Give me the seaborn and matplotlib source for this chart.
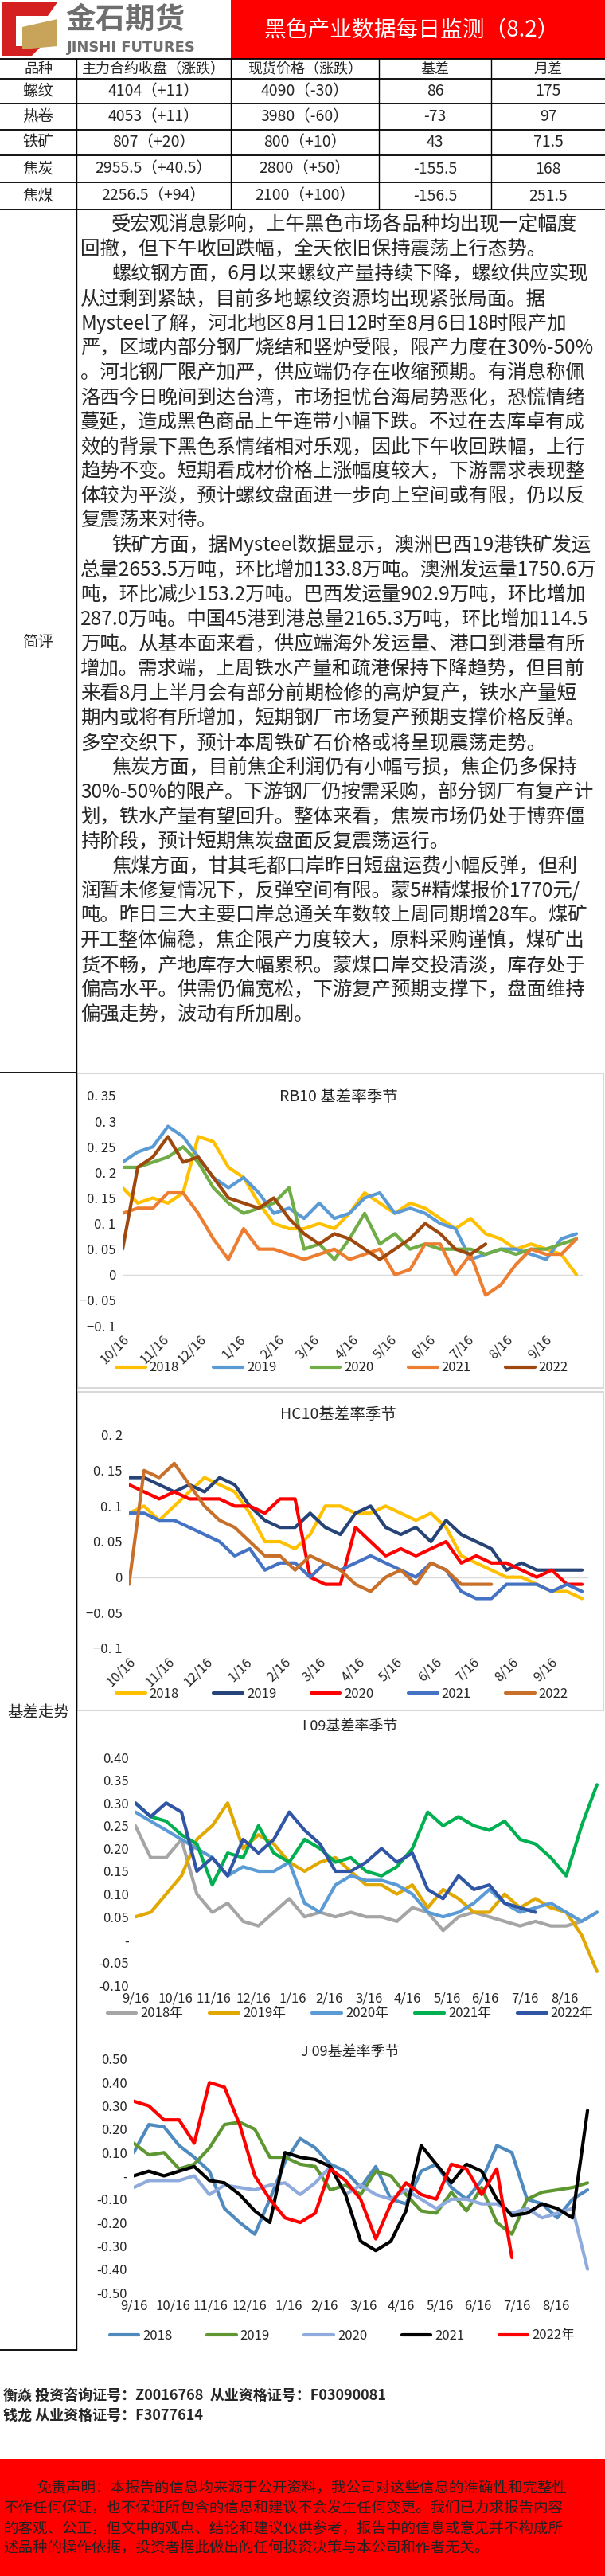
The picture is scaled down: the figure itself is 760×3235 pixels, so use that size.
import numpy as np
import pandas as pd
import matplotlib
matplotlib.use("Agg")
import matplotlib.pyplot as plt
import seaborn as sns
from matplotlib.patches import Rectangle, Polygon
from matplotlib.lines import Line2D

sns.set_style("white")
plt.rcParams['font.family'] = ['Noto Sans CJK SC', 'DejaVu Sans']

W, H = 760, 3235
fig = plt.figure(figsize=(W/100, H/100), dpi=100)

def fx(x): return x / W
def fy(y): return 1 - y / H

# ---------------- data ----------------
title = "黑色产业数据每日监测（8.2）"
table_header = ["品种", "主力合约收盘（涨跌）", "现货价格（涨跌）", "基差", "月差"]
varieties = ["螺纹", "热卷", "铁矿", "焦炭", "焦煤"]
futures_close = ["4104（+11）", "4053（+11）", "807（+20）", "2955.5（+40.5）", "2256.5（+94）"]
spot_price = ["4090（-30）", "3980（-60）", "800（+10）", "2800（+50）", "2100（+100）"]
basis = ["86", "-73", "43", "-155.5", "-156.5"]
spread = ["175", "97", "71.5", "168", "251.5"]

comment_lines = [
    ("受宏观消息影响，上午黑色市场各品种均出现一定幅度", True),
    ("回撤，但下午收回跌幅，全天依旧保持震荡上行态势。", False),
    ("螺纹钢方面，6月以来螺纹产量持续下降，螺纹供应实现", True),
    ("从过剩到紧缺，目前多地螺纹资源均出现紧张局面。据", False),
    ("Mysteel了解，河北地区8月1日12时至8月6日18时限产加", False),
    ("严，区域内部分钢厂烧结和竖炉受限，限产力度在30%-50%", False),
    ("。河北钢厂限产加严，供应端仍存在收缩预期。有消息称佩", False),
    ("洛西今日晚间到达台湾，市场担忧台海局势恶化，恐慌情绪", False),
    ("蔓延，造成黑色商品上午连带小幅下跌。不过在去库卓有成", False),
    ("效的背景下黑色系情绪相对乐观，因此下午收回跌幅，上行", False),
    ("趋势不变。短期看成材价格上涨幅度较大，下游需求表现整", False),
    ("体较为平淡，预计螺纹盘面进一步向上空间或有限，仍以反", False),
    ("复震荡来对待。", False),
    ("铁矿方面，据Mysteel数据显示，澳洲巴西19港铁矿发运", True),
    ("总量2653.5万吨，环比增加133.8万吨。澳洲发运量1750.6万", False),
    ("吨，环比减少153.2万吨。巴西发运量902.9万吨，环比增加", False),
    ("287.0万吨。中国45港到港总量2165.3万吨，环比增加114.5", False),
    ("万吨。从基本面来看，供应端海外发运量、港口到港量有所", False),
    ("增加。需求端，上周铁水产量和疏港保持下降趋势，但目前", False),
    ("来看8月上半月会有部分前期检修的高炉复产，铁水产量短", False),
    ("期内或将有所增加，短期钢厂市场复产预期支撑价格反弹。", False),
    ("多空交织下，预计本周铁矿石价格或将呈现震荡走势。", False),
    ("焦炭方面，目前焦企利润仍有小幅亏损，焦企仍多保持", True),
    ("30%-50%的限产。下游钢厂仍按需采购，部分钢厂有复产计", False),
    ("划，铁水产量有望回升。整体来看，焦炭市场仍处于博弈僵", False),
    ("持阶段，预计短期焦炭盘面反复震荡运行。", False),
    ("焦煤方面，甘其毛都口岸昨日短盘运费小幅反弹，但利", True),
    ("润暂未修复情况下，反弹空间有限。蒙5#精煤报价1770元/", False),
    ("吨。昨日三大主要口岸总通关车数较上周同期增28车。煤矿", False),
    ("开工整体偏稳，焦企限产力度较大，原料采购谨慎，煤矿出", False),
    ("货不畅，产地库存大幅累积。蒙煤口岸交投清淡，库存处于", False),
    ("偏高水平。供需仍偏宽松，下游复产预期支撑下，盘面维持", False),
    ("偏强走势，波动有所加剧。", False),
]

days = np.arange(0, 361, 12)
years = ["2018", "2019", "2020", "2021", "2022"]

rb_2018 = [.17,.14,.15,.14,.16,.27,.26,.21,.19,.14,.10,.09,.09,.10,.09,.12,.16,.14,.12,.14,.13,.11,.09,.11,.08,.07,.05,.06,.05,.04,.00]
rb_2019 = [.22,.24,.25,.29,.27,.23,.19,.17,.19,.16,.12,.13,.11,.14,.11,.12,.15,.16,.12,.13,.12,.10,.09,.03,.04,.05,.05,.04,.03,.07,.08]
rb_2020 = [.21,.21,.22,.23,.25,.22,.17,.14,.12,.13,.14,.17,.05,.06,.03,.07,.12,.06,.08,.05,.06,.05,.05,.05,.04,.05,.04,.05,.05,.06,.07]
rb_2021 = [.12,.13,.13,.16,.16,.12,.07,.03,.09,.05,.05,.04,.03,.04,.05,.03,.04,.05,.00,.01,.06,.06,.00,.04,-.04,-.02,.02,.05,.04,.04,.07]
rb_2022 = [.05,.21,.23,.27,.22,.23,.19,.15,.14,.13,.15,.11,.08,.06,.08,.07,.05,.03,.05,.07,.10,.08,.05,.04,.06]

hc_2018 = [.09,.10,.08,.10,.12,.14,.13,.12,.09,.05,.05,.04,.06,.10,.10,.09,.09,.10,.09,.08,.09,.07,.03,.02,.01,.00,.00,-.01,-.02,-.02,-.03]
hc_2019 = [.14,.14,.13,.12,.13,.12,.14,.13,.10,.08,.07,.07,.09,.07,.06,.09,.10,.07,.06,.07,.05,.08,.06,.05,.04,.01,.02,.01,.01,.01,.01]
hc_2020 = [.13,.12,.11,.12,.11,.11,.11,.10,.10,.09,.11,.11,.00,-.01,-.01,.07,.05,.03,.04,.03,.04,.05,.02,.03,.02,.02,.01,.00,.01,-.01,-.01]
hc_2021 = [.09,.09,.08,.08,.07,.06,.05,.03,.04,.01,.02,.02,.00,.02,.01,.02,.03,.02,.01,.00,.02,.01,-.02,-.03,-.03,-.01,-.01,-.01,-.02,-.01,-.02]
hc_2022 = [-.01,.15,.14,.16,.13,.10,.08,.07,.05,.03,.03,.01,.03,.02,.01,-.01,-.02,.00,.01,-.01,.02,.01,-.01,-.01,-.01]

i_2018 = [.25,.18,.18,.22,.10,.06,.08,.04,.03,.06,.09,.05,.06,.05,.06,.05,.05,.04,.07,.06,.02,.05,.06,.05,.04,.03,.04,.03,.03,.04,.06]
i_2019 = [.05,.06,.10,.14,.22,.25,.30,.20,.23,.21,.17,.15,.17,.18,.15,.12,.12,.10,.12,.07,.11,.09,.06,.06,.10,.07,.09,.07,.06,.01,-.07]
i_2020 = [.28,.26,.24,.22,.20,.18,.14,.16,.15,.15,.17,.08,.06,.12,.14,.13,.13,.12,.10,.06,.05,.06,.08,.11,.08,.06,.07,.08,.06,.04,.06]
i_2021 = [.30,.27,.26,.23,.21,.12,.19,.18,.25,.19,.17,.22,.20,.17,.18,.15,.14,.16,.20,.28,.25,.27,.25,.24,.26,.22,.21,.18,.14,.25,.34]
i_2022 = [.30,.27,.30,.28,.15,.18,.14,.22,.19,.22,.28,.24,.21,.15,.15,.17,.20,.17,.19,.11,.09,.14,.11,.12,.08,.07,.06]

j_2018 = [.10,.22,.21,.13,.08,.02,-.14,-.20,-.25,-.10,.06,.16,.12,.05,.02,-.05,.04,-.10,-.12,.02,.05,-.05,-.10,-.02,.13,.10,-.10,-.12,-.18,-.10,-.06]
j_2019 = [.14,.09,.10,.03,.05,.12,.22,.23,.20,.08,.08,.05,.04,-.06,-.04,-.08,.02,.00,-.08,-.15,-.16,-.07,-.15,-.05,-.20,-.25,-.10,-.07,-.06,-.05,-.03]
j_2020 = [-.05,-.02,-.02,-.02,.00,-.08,-.04,-.05,-.06,-.04,-.03,-.08,-.03,.04,-.08,-.04,-.08,-.10,-.06,-.10,-.14,-.10,-.10,-.12,-.12,-.16,-.14,-.18,-.16,-.14,-.40]
j_2021 = [.00,.02,.00,.02,.04,-.02,-.03,-.08,-.15,-.20,.10,.08,.07,.04,-.08,-.28,-.32,-.28,-.15,.13,.05,-.03,.05,.02,-.10,-.17,-.16,-.12,-.14,-.18,.28]
j_2022 = [.32,.30,.24,.24,.14,.40,.38,.22,.00,-.10,-.18,-.20,-.16,.03,-.02,-.10,-.27,-.12,-.03,-.08,-.10,.05,.03,-.08,.03,-.35]

month_labels_rb = ["10/16","11/16","12/16","1/16","2/16","3/16","4/16","5/16","6/16","7/16","8/16","9/16"]
month_labels_i = ["9/16","10/16","11/16","12/16","1/16","2/16","3/16","4/16","5/16","6/16","7/16","8/16"]
tick_days = [0,31,61,92,123,151,182,212,243,273,304,335]

# ---------------- layout helpers ----------------
def hline(x0, x1, y, c="black", lw=1.0):
    fig.add_artist(Line2D([fx(x0), fx(x1)], [fy(y), fy(y)], color=c, lw=lw))
def vline(x, y0, y1, c="black", lw=1.0):
    fig.add_artist(Line2D([fx(x), fx(x)], [fy(y0), fy(y1)], color=c, lw=lw))
def rect(x0, y0, x1, y1, fc, ec="none", lw=1):
    fig.add_artist(Rectangle((fx(x0), fy(y1)), fx(x1-x0), (y1-y0)/H, facecolor=fc, edgecolor=ec, lw=lw))

# header
rect(290, 0, 760, 74, "#FF0000")
fig.text(fx(517), fy(38), title, color="white", fontsize=20, ha="center", va="center")
fig.add_artist(Polygon([(fx(2), fy(3)), (fx(72), fy(3)), (fx(60), fy(20)), (fx(20), fy(20)), (fx(20), fy(58)), (fx(52), fy(58)), (fx(40), fy(70)), (fx(2), fy(70))], closed=True, fc="#D42020", ec="none"))
fig.add_artist(Polygon([(fx(28), fy(34)), (fx(72), fy(24)), (fx(72), fy(58)), (fx(28), fy(62))], closed=True, fc="#C8A45A", ec="none"))
fig.text(fx(82), fy(24), "金石期货", color="#6E6E6E", fontsize=27, fontweight="bold", ha="left", va="center")
fig.text(fx(84), fy(60), "JINSHI FUTURES", color="#6E6E6E", fontsize=13, fontweight="bold", ha="left", va="center", family=["DejaVu Sans"])

# table
cols = [0, 96, 290, 476, 617, 760]
rows = [74, 99, 130, 163, 195, 229, 263]
for y in rows:
    hline(0, 760, y, lw=1.3)
for x in cols[1:-1]:
    vline(x, 74, 263)
for j, h in enumerate(table_header):
    fig.text(fx((cols[j]+cols[j+1])/2 if j else 48), fy(87), h, fontsize=13, ha="center", va="center")
cells = [varieties, futures_close, spot_price, basis, spread]
for i in range(5):
    yc = (rows[i+1] + rows[i+2]) / 2
    for j in range(5):
        xc = 48 if j == 0 else (cols[j]+cols[j+1])/2
        fig.text(fx(xc), fy(yc), cells[j][i], fontsize=14, ha="center", va="center")

# comment
vline(96, 263, 2951)
hline(0, 96, 1347, lw=1.3)
hline(0, 96, 2951, lw=1.3)
fig.text(fx(48), fy(807), "简评", fontsize=14, ha="center", va="center")
fig.text(fx(48), fy(2150), "基差走势", fontsize=14, ha="center", va="center")
for k, (line, ind) in enumerate(comment_lines):
    fig.text(fx(140 if ind else 101), fy(282 + 31*k), line, fontsize=17.6, ha="left", va="center")

# chart boxes
for (y0, y1) in [(1348, 1743), (1748, 2148)]:
    rect(97, y0, 758, y1, "none", ec="#D9D9D9", lw=1.5)

def make_ax(x0, x1, ytop, ybot):
    return fig.add_axes([fx(x0), fy(ybot), fx(x1-x0), (ybot-ytop)/H])

def draw(ax, series, colors, lws, ylim, yticks, ylabels, xlabels, rot):
    recs = []
    for yr, vals in zip(years, series):
        for d, v in zip(days[:len(vals)], vals):
            recs.append((yr, d, v))
    df = pd.DataFrame(recs, columns=["year", "day", "v"])
    for yr in years:
        sns.lineplot(data=df[df.year == yr], x="day", y="v", color=colors[yr], lw=lws[yr], ax=ax, label=yr)
    ax.set_xlim(0, 365)
    ax.set_ylim(*ylim)
    ax.set_yticks(yticks)
    ax.set_yticklabels(ylabels, fontsize=12)
    ax.set_xticks(tick_days)
    ax.set_xticklabels(xlabels, fontsize=12, rotation=rot, ha="right" if rot else "center",
                       rotation_mode="anchor" if rot else "default")
    ax.set_xlabel(""); ax.set_ylabel("")
    for s in ax.spines.values():
        s.set_visible(False)
    ax.tick_params(length=0, pad=6)
    ax.set_facecolor("none")
    return ax

def legend(ax, labels, ycenter, xcenter=430, cs=2.6):
    hs = ax.get_legend_handles_labels()[0]
    for h in hs:
        h.set_linewidth(3)
    ax.legend(hs, labels, loc="center", bbox_to_anchor=(fx(xcenter), fy(ycenter)), bbox_transform=fig.transFigure,
              ncol=5, frameon=False, fontsize=12, handlelength=2.2, columnspacing=cs, handletextpad=0.3)

# RB10
ax = make_ax(154, 732, 1376, 1665)
cols_rb = {"2018": "#FFC000", "2019": "#5B9BD5", "2020": "#70AD47", "2021": "#ED7D31", "2022": "#9E480E"}
draw(ax, [rb_2018, rb_2019, rb_2020, rb_2021, rb_2022], cols_rb, {y: 1.5 for y in years},
     (-0.1, 0.35), [0.35,0.3,0.25,0.2,0.15,0.1,0.05,0,-0.05,-0.1],
     ["0. 35","0. 3","0. 25","0. 2","0. 15","0. 1","0. 05","0","−0. 05","−0. 1"], month_labels_rb, 45)
ax.axhline(0, color="#D9D9D9", lw=1, zorder=0)
fig.text(fx(425), fy(1377), "RB10 基差率季节", fontsize=14, ha="center", va="center")
legend(ax, years, 1718)

# HC10
ax = make_ax(162, 739, 1802, 2070)
cols_hc = {"2018": "#FFC000", "2019": "#264478", "2020": "#FF0000", "2021": "#4472C4", "2022": "#C8702A"}
draw(ax, [hc_2018, hc_2019, hc_2020, hc_2021, hc_2022], cols_hc, {"2018": 1.5, "2019": 2.2, "2020": 1.5, "2021": 1.5, "2022": 1.5},
     (-0.1, 0.2), [0.2,0.15,0.1,0.05,0,-0.05,-0.1],
     ["0. 2","0. 15","0. 1","0. 05","0","−0. 05","−0. 1"], month_labels_rb, 45)
ax.axhline(0, color="#D9D9D9", lw=1, zorder=0)
fig.text(fx(425), fy(1777), "HC10基差率季节", fontsize=14, ha="center", va="center")
legend(ax, years, 2127)

# I09
ax = make_ax(170, 758, 2207, 2493)
cols_i = {"2018": "#A5A5A5", "2019": "#E0A800", "2020": "#5B9BD5", "2021": "#00B050", "2022": "#2F55A4"}
draw(ax, [i_2018, i_2019, i_2020, i_2021, i_2022], cols_i, {y: 1.5 for y in years},
     (-0.1, 0.4), [0.4,0.35,0.3,0.25,0.2,0.15,0.1,0.05,0,-0.05,-0.1],
     ["0.40","0.35","0.30","0.25","0.20","0.15","0.10","0.05","-","-0.05","-0.10"], month_labels_i, 0)
fig.text(fx(440), fy(2168), "I 09基差率季节", fontsize=13, ha="center", va="center")
legend(ax, [y + "年" for y in years], 2529, xcenter=440, cs=2.0)

# J09
ax = make_ax(168, 746, 2586, 2879)
cols_j = {"2018": "#4F8ABF", "2019": "#5E9732", "2020": "#8FAADC", "2021": "#000000", "2022": "#FF0000"}
draw(ax, [j_2018, j_2019, j_2020, j_2021, j_2022], cols_j, {y: 1.5 for y in years},
     (-0.5, 0.5), [0.5,0.4,0.3,0.2,0.1,0,-0.1,-0.2,-0.3,-0.4,-0.5],
     ["0.50","0.40","0.30","0.20","0.10","-","-0.10","-0.20","-0.30","-0.40","-0.50"], month_labels_i, 0)
fig.text(fx(440), fy(2577), "J 09基差率季节", fontsize=13, ha="center", va="center")
legend(ax, ["2018", "2019", "2020", "2021", "2022年"], 2933)

# authors
fig.text(fx(4), fy(3008), "衡焱 投资咨询证号：Z0016768  从业资格证号：F03090081", fontsize=13, fontweight="bold", ha="left", va="center")
fig.text(fx(4), fy(3033), "钱龙 从业资格证号：F3077614", fontsize=13, fontweight="bold", ha="left", va="center")

# disclaimer
rect(0, 3088, 760, 3235, "#FF0000")
disc = [(46, "免责声明：本报告的信息均来源于公开资料，我公司对这些信息的准确性和完整性"),
        (4, "不作任何保证，也不保证所包含的信息和建议不会发生任何变更。我们已力求报告内容"),
        (4, "的客观、公正，但文中的观点、结论和建议仅供参考，报告中的信息或意见并不构成所"),
        (4, "述品种的操作依据，投资者据此做出的任何投资决策与本公司和作者无关。")]
for k, (x, l) in enumerate(disc):
    fig.text(fx(x), fy(3125 + 25*k), l, fontsize=13.3, ha="left", va="center", color="#222222")

fig.savefig("out.png", dpi=100)
